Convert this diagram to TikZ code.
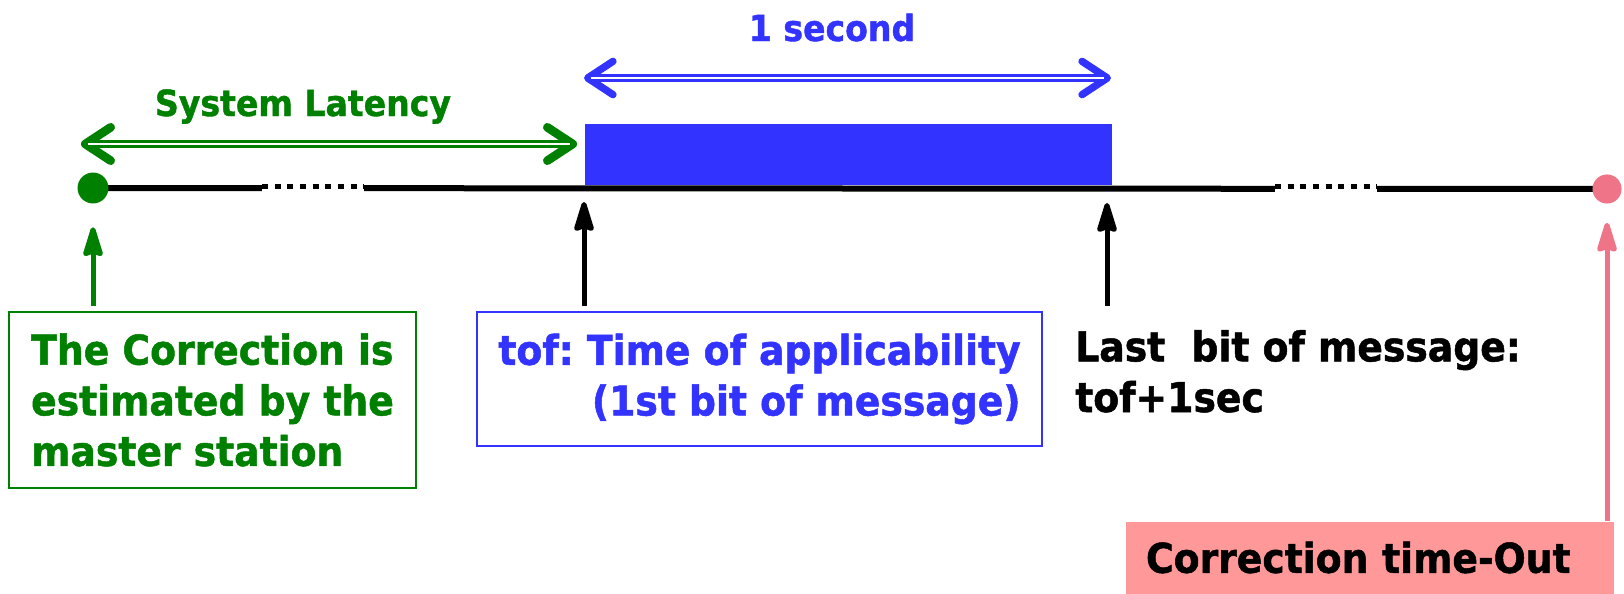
\documentclass[tikz,border=0pt]{standalone}
\usepackage{fontspec}
\setmainfont{DejaVu Sans}[FakeStretch=0.92, BoldFeatures={FakeBold=1.2}]
\usetikzlibrary{arrows.meta}
\definecolor{tlgreen}{RGB}{0,128,0}
\definecolor{tlblue}{RGB}{51,51,255}
\definecolor{tlpink}{RGB}{240,116,136}
\definecolor{tlpinkfill}{RGB}{255,153,153}
\frenchspacing
\tikzset{
  lbl/.style={font=\bfseries\fontsize{30.75}{38}\selectfont},
  spanlbl/.style={font=\bfseries\fontsize{27}{32}\selectfont},
  dotnode/.style={circle, inner sep=0pt, minimum size=22.5pt},
  uparrow/.style={line width=3.75pt, -{Stealth[length=27pt,width=16pt,inset=2.5pt,round]}},
  twinshaft/.style={line width=2.4pt, double=white, double distance=1.5pt,
    shorten <=5pt, shorten >=5pt},
  gbarb/.tip={Straight Barb[length=19pt,width=25pt,line width=6.5pt,round]},
  bbarb/.tip={Straight Barb[length=19pt,width=25pt,line width=5.5pt,round]},
  framebox/.style={lbl, line width=1.5pt, inner sep=0pt},
}
\begin{document}
\begin{tikzpicture}[x=0.75pt, y=-0.75pt]
  \fill[white] (0,0) rectangle (1624,593);
  \useasboundingbox (0,0) rectangle (1624,593);

  % time axis with its two end points
  \node[dotnode] (gdot) at (93,188) {};
  \node[dotnode, minimum size=21.75pt] (pdot) at (1607,189) {};
  \draw[line width=4.5pt] (gdot.center) -- (pdot.center);
  \fill[tlgreen] (gdot) circle[radius=11.6pt];
  \fill[tlpink] (pdot) circle[radius=10.9pt];

  % breaks in the axis
  \foreach \a/\b in {262/364, 1275/1377} {
    \fill[white] (\a,182) rectangle (\b,193);
    \draw[line width=3.75pt, dash pattern=on 4.5pt off 5pt] (\a,186) -- (\b,186);
  }

  % message being broadcast
  \node[fill=tlblue, inner sep=0pt, minimum width=395.25pt, minimum height=45.75pt,
        anchor=south west] (msg) at (585,185) {};

  % system latency span
  \coordinate (la) at (81,144);
  \coordinate (lb) at (577,144);
  \draw[line width=0.2pt, tlgreen, {gbarb}-{gbarb}] (la) -- (lb);
  \draw[twinshaft, tlgreen] (la) -- (lb);
  \node[spanlbl, text=tlgreen, anchor=base] (latency) at (303,116) {System Latency};

  % one second span
  \coordinate (sa) at (584,78);
  \coordinate (sb) at (1111,78);
  \draw[line width=0.2pt, tlblue, {bbarb}-{bbarb}] (sa) -- (sb);
  \draw[twinshaft, tlblue] (sa) -- (sb);
  \node[spanlbl, text=tlblue, anchor=base] (onesec) at (832,41) {1 second};

  % labels below the axis
  \node[framebox, draw=tlgreen, text=tlgreen, align=left,
        minimum width=305.25pt, minimum height=132pt] (est) at (212.5,400)
        {The Correction is\\estimated by the\\master station};
  \node[framebox, draw=tlblue, text=tlblue, align=right,
        minimum width=423.75pt, minimum height=100.5pt] (tof) at (759.5,379)
        {tof: Time of applicability\\(1st bit of message)};
  \node[lbl, anchor=base west, align=left, inner sep=0pt] (last) at (1075,412)
        {Last\ \ bit of message:\\tof+1sec};
  \node[lbl, fill=tlpinkfill, inner sep=0pt, minimum width=366pt, minimum height=54pt,
        text width=366pt, align=left] (tout) at (1370,557.5)
        {\hspace*{15pt}Correction time-Out};

  % pointers to the axis
  \coordinate (tofpt) at (584,187);
  \coordinate (endpt) at (1107,188);
  \draw[uparrow, tlgreen, shorten <=3.75pt, shorten >=18pt] (gdot |- est.north) -- (gdot);
  \draw[uparrow, shorten <=3.75pt, shorten >=11.25pt] (tofpt |- tof.north) -- (tofpt);
  \draw[uparrow, shorten <=3.75pt, shorten >=11.25pt] (endpt |- tof.north) -- (endpt);
  \draw[uparrow, tlpink, shorten >=14.25pt] (pdot |- tout.north) -- (pdot);
\end{tikzpicture}
\end{document}
